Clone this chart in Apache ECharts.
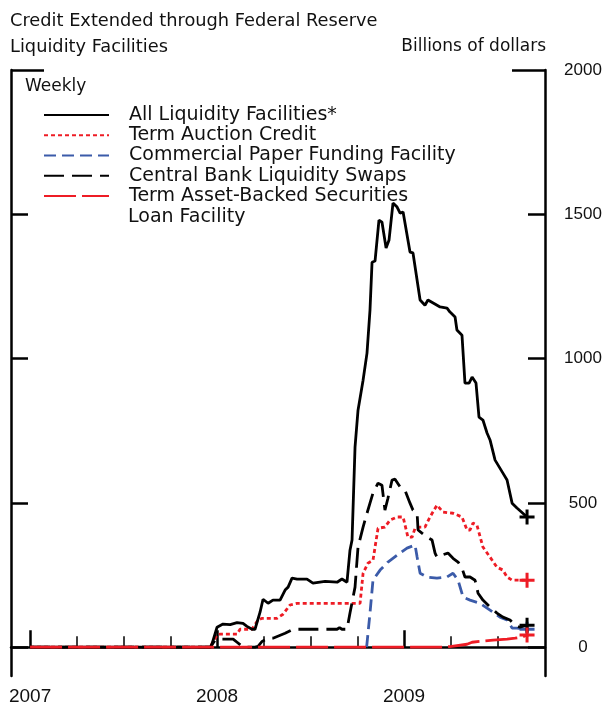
<!DOCTYPE html>
<html>
<head>
<meta charset="utf-8">
<script src="https://cdn.jsdelivr.net/npm/echarts@6/dist/echarts.min.js"></script>
<style>html,body{margin:0;padding:0;background:#fff}#c{width:610px;height:707px}</style>
</head>
<body>
<div id="c"></div>
<script>
// x values are decimal years
const seriesNames = ['All Liquidity Facilities*', 'Term Auction Credit', 'Commercial Paper Funding Facility', 'Central Bank Liquidity Swaps', 'Term Asset-Backed Securities'];
const yearTicks = [2007, 2008, 2009];
const quarterTicks = [2007.25, 2007.5, 2007.75, 2008.25, 2008.5, 2008.75, 2009.25, 2009.5];
const yTicks = [0, 500, 1000, 1500];
const yLabels = [0, 500, 1000, 1500, 2000];
const yTopTick = [2000];

const allFacilities = [[2007.000,0],[2007.690,0],[2007.700,5],[2007.715,0],[2007.968,0],[2008.000,69],[2008.032,80],[2008.070,78],[2008.107,85],[2008.139,82],[2008.160,72],[2008.187,62],[2008.203,62],[2008.230,121],[2008.246,166],[2008.273,152],[2008.299,163],[2008.337,163],[2008.364,198],[2008.380,208],[2008.401,239],[2008.428,236],[2008.481,236],[2008.513,222],[2008.578,228],[2008.642,225],[2008.668,236],[2008.695,225],[2008.711,336],[2008.722,371],[2008.738,693],[2008.754,821],[2008.781,925],[2008.802,1019],[2008.818,1168],[2008.829,1334],[2008.845,1338],[2008.866,1480],[2008.882,1473],[2008.904,1383],[2008.920,1411],[2008.941,1539],[2008.963,1525],[2008.979,1504],[2008.995,1508],[2009.032,1369],[2009.048,1366],[2009.086,1203],[2009.112,1185],[2009.128,1203],[2009.193,1179],[2009.230,1175],[2009.246,1161],[2009.273,1144],[2009.283,1099],[2009.310,1081],[2009.326,915],[2009.348,915],[2009.364,936],[2009.385,915],[2009.401,797],[2009.422,787],[2009.444,742],[2009.460,718],[2009.487,648],[2009.529,603],[2009.551,579],[2009.578,499],[2009.604,482],[2009.658,451]];

const termAuction = [[2007.000,0],[2007.963,0],[2007.979,20],[2008.000,42],[2008.016,45],[2008.107,45],[2008.123,62],[2008.187,62],[2008.219,94],[2008.241,100],[2008.321,100],[2008.353,114],[2008.390,146],[2008.428,152],[2008.765,152],[2008.781,256],[2008.807,291],[2008.834,301],[2008.861,412],[2008.898,416],[2008.925,440],[2008.963,451],[2008.995,451],[2009.021,381],[2009.043,381],[2009.059,412],[2009.086,416],[2009.112,416],[2009.139,451],[2009.176,492],[2009.209,468],[2009.262,464],[2009.310,451],[2009.337,406],[2009.353,406],[2009.369,430],[2009.390,423],[2009.422,347],[2009.460,312],[2009.497,277],[2009.529,267],[2009.551,243],[2009.578,232],[2009.658,232]];

const commercialPaper = [[2008.800,0],[2008.818,118],[2008.834,232],[2008.872,267],[2008.914,295],[2008.963,319],[2009.016,343],[2009.059,354],[2009.070,312],[2009.086,256],[2009.123,243],[2009.176,239],[2009.230,243],[2009.262,256],[2009.289,232],[2009.316,173],[2009.353,163],[2009.406,152],[2009.460,128],[2009.513,104],[2009.551,94],[2009.578,66],[2009.604,66],[2009.658,62]];

const cbSwaps = [[2007.000,0],[2007.963,0],[2007.990,24],[2008.016,28],[2008.086,28],[2008.107,17],[2008.139,0],[2008.203,0],[2008.219,3],[2008.241,20],[2008.273,31],[2008.299,31],[2008.364,48],[2008.406,62],[2008.497,62],[2008.578,62],[2008.642,62],[2008.655,68],[2008.668,62],[2008.695,62],[2008.711,118],[2008.738,208],[2008.754,347],[2008.781,416],[2008.802,464],[2008.818,499],[2008.834,534],[2008.861,568],[2008.882,561],[2008.898,475],[2008.914,516],[2008.936,579],[2008.952,582],[2008.979,555],[2009.005,544],[2009.032,499],[2009.048,475],[2009.070,464],[2009.075,406],[2009.096,395],[2009.123,381],[2009.150,371],[2009.166,326],[2009.176,312],[2009.203,319],[2009.235,326],[2009.262,308],[2009.289,295],[2009.310,274],[2009.326,243],[2009.353,243],[2009.380,232],[2009.396,187],[2009.422,163],[2009.460,139],[2009.497,118],[2009.529,104],[2009.567,94],[2009.594,76],[2009.620,69],[2009.658,76]];

const talf = [[2007.000,0],[2009.209,0],[2009.246,2],[2009.337,10],[2009.364,17],[2009.422,21],[2009.476,24],[2009.551,28],[2009.594,31],[2009.631,35],[2009.658,42]];

const chart = echarts.init(document.getElementById('c'), null, {renderer: 'canvas'});
const FONT = '"Liberation Sans", Arial, sans-serif';
const WIDE = '"DejaVu Sans", sans-serif';
const BLACK = '#000';
const RED = '#ee1c25';
const BLUE = '#3b5ba9';
const PLUS = 'path://M4,0H6V4H10V6H6V10H4V6H0V4H4Z';

function mkSeries(name, data, color, type, width, z) {
  const last = data[data.length - 1];
  return {
    name: name, type: 'line', data: data, xAxisIndex: 0, yAxisIndex: 0,
    symbol: 'none', animation: false, z: z,
    lineStyle: {color: color, width: width, type: type, cap: 'butt'},
    itemStyle: {color: color},
    markPoint: {
      symbol: PLUS, symbolSize: 15, silent: true, animation: false,
      itemStyle: {color: color},
      label: {show: false},
      data: [{coord: last}]
    }
  };
}

const axisLineStyle = {color: BLACK, width: 2.5};

const option = {
  animation: false,
  textStyle: {fontFamily: FONT},
  title: {
    text: 'Credit Extended through Federal Reserve\nLiquidity Facilities',
    left: 5, top: 3,
    textStyle: {fontFamily: WIDE, fontSize: 17.8, fontWeight: 'normal', color: '#111', lineHeight: 26}
  },
  grid: {left: 11, right: 65, top: 70, bottom: 31, containLabel: false},
  xAxis: [
    {
      type: 'value', min: 2006.898, max: 2009.754, position: 'bottom',
      axisLine: {show: true, lineStyle: axisLineStyle},
      axisTick: {show: true, inside: true, length: 17, lineStyle: {color: BLACK, width: 2.5}, customValues: yearTicks},
      axisLabel: {show: true, customValues: yearTicks, margin: 11, fontSize: 19, color: '#111', fontFamily: FONT, formatter: v => String(Math.round(v))},
      splitLine: {show: false}
    },
    {
      type: 'value', min: 2006.898, max: 2009.754, position: 'bottom',
      axisLine: {show: false},
      axisTick: {show: true, inside: true, length: 11, lineStyle: {color: BLACK, width: 1.5}, customValues: quarterTicks},
      axisLabel: {show: false},
      splitLine: {show: false}
    }
  ],
  yAxis: [
    {
      type: 'value', min: -100, max: 2000, position: 'right',
      axisLine: {show: true, lineStyle: axisLineStyle},
      axisTick: {show: true, inside: true, length: 17, lineStyle: {color: BLACK, width: 2.5}, customValues: yTicks},
      axisLabel: {show: true, customValues: yLabels, margin: 38, align: 'center', fontSize: 17, color: '#111', fontFamily: FONT, formatter: v => String(Math.round(v))},
      splitLine: {show: false}
    },
    {
      type: 'value', min: -100, max: 2000, position: 'left',
      axisLine: {show: true, lineStyle: axisLineStyle},
      axisTick: {show: true, inside: true, length: 17, lineStyle: {color: BLACK, width: 2.5}, customValues: yTicks},
      axisLabel: {show: false},
      splitLine: {show: false}
    },
    {
      type: 'value', min: -100, max: 2000, position: 'right',
      axisLine: {show: false},
      axisTick: {show: true, inside: true, length: 33, lineStyle: {color: BLACK, width: 2.5}, customValues: yTopTick},
      axisLabel: {show: false},
      splitLine: {show: false}
    },
    {
      type: 'value', min: -100, max: 2000, position: 'left',
      axisLine: {show: false},
      axisTick: {show: true, inside: true, length: 33, lineStyle: {color: BLACK, width: 2.5}, customValues: yTopTick},
      axisLabel: {show: false},
      splitLine: {show: false}
    }
  ],
  legend: {
    orient: 'vertical', left: 38, top: 100,
    itemWidth: 65, itemHeight: 14, itemGap: 0,
    selectedMode: false,
    data: seriesNames,
    itemStyle: {color: 'rgba(0,0,0,0)', borderColor: 'rgba(0,0,0,0)', borderWidth: 0, opacity: 0},
    textStyle: {fontFamily: WIDE, fontSize: 19, color: '#111', padding: [0, 0, 0, 15], lineHeight: 20.2}
  },
  graphic: [
    {type: 'text', left: 25, top: 78, style: {text: 'Weekly', font: '17px ' + WIDE, fill: '#111'}},
    {type: 'text', left: 128, top: 208, style: {text: 'Loan Facility', font: '19px ' + WIDE, fill: '#111'}},
    {type: 'text', right: 64, top: 38, style: {text: 'Billions of dollars', font: '17px ' + WIDE, fill: '#111'}}
  ],
  series: [
    mkSeries(seriesNames[0], allFacilities, BLACK, 'solid', 2.8, 5),
    mkSeries(seriesNames[1], termAuction, RED, [4, 3], 2.8, 4),
    mkSeries(seriesNames[2], commercialPaper, BLUE, [12, 6], 2.8, 3),
    mkSeries(seriesNames[3], cbSwaps, BLACK, [20, 8], 2.8, 6),
    mkSeries(seriesNames[4], talf, RED, [32, 6], 2.8, 7)
  ]
};
chart.setOption(option);
</script>
</body>
</html>
